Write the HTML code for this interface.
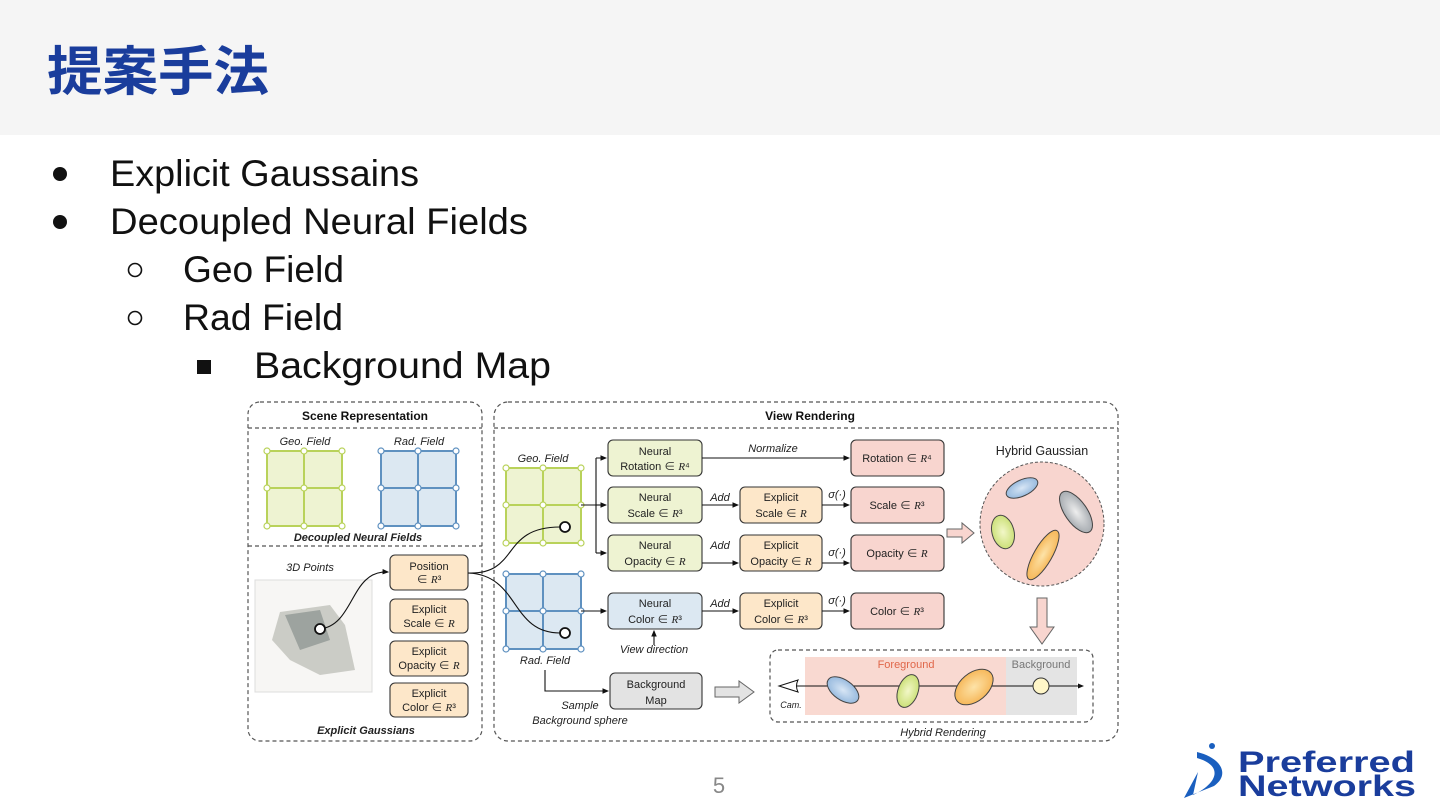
<!DOCTYPE html>
<html><head><meta charset="utf-8"><style>
html,body{margin:0;padding:0;background:#fff}
svg{display:block}
text{font-family:"Liberation Sans","Noto Sans CJK JP",sans-serif}
</style></head><body>
<svg width="1440" height="810" viewBox="0 0 1440 810" xmlns="http://www.w3.org/2000/svg">
<defs>
<marker id="ah" markerWidth="6" markerHeight="6" refX="5" refY="3" orient="auto"><path d="M0,0.5 L6,3 L0,5.5z" fill="#111"/></marker>
<radialGradient id="org" cx="0.5" cy="0.5" r="0.6"><stop offset="0" stop-color="#fde3a8"/><stop offset="1" stop-color="#f5b04c"/></radialGradient>
<radialGradient id="blu" cx="0.5" cy="0.5" r="0.6"><stop offset="0" stop-color="#d8e6f5"/><stop offset="1" stop-color="#8cb2da"/></radialGradient>
<radialGradient id="grn" cx="0.5" cy="0.5" r="0.6"><stop offset="0" stop-color="#f2f7c8"/><stop offset="1" stop-color="#c5dc6a"/></radialGradient>
<radialGradient id="gry" cx="0.5" cy="0.5" r="0.6"><stop offset="0" stop-color="#eee"/><stop offset="1" stop-color="#9aa0a6"/></radialGradient>
</defs>
<rect x="0" y="0" width="1440" height="135" fill="#f5f5f5"/>
<text x="47" y="90" font-size="53" font-weight="bold" fill="#1a3d9c" textLength="222" lengthAdjust="spacingAndGlyphs">提案手法</text>

<g font-size="37" fill="#111">
<circle cx="60" cy="174" r="7"/>
<text x="110" y="186" textLength="309" lengthAdjust="spacingAndGlyphs">Explicit Gaussains</text>
<circle cx="60" cy="222" r="7"/>
<text x="110" y="234" textLength="418" lengthAdjust="spacingAndGlyphs">Decoupled Neural Fields</text>
<circle cx="135" cy="270" r="6.5" fill="none" stroke="#111" stroke-width="1.6"/>
<text x="183" y="282" textLength="161" lengthAdjust="spacingAndGlyphs">Geo Field</text>
<circle cx="135" cy="318" r="6.5" fill="none" stroke="#111" stroke-width="1.6"/>
<text x="183" y="330" textLength="160" lengthAdjust="spacingAndGlyphs">Rad Field</text>
<rect x="197" y="360" width="14" height="14"/>
<text x="254" y="378" textLength="297" lengthAdjust="spacingAndGlyphs">Background Map</text>
</g>

<!-- Diagram frames -->
<g fill="none" stroke="#555" stroke-width="1.2" stroke-dasharray="4,3">
<rect x="248" y="402" width="234" height="339" rx="12"/>
<line x1="248" y1="428" x2="482" y2="428"/>
<line x1="248" y1="546" x2="482" y2="546"/>
<rect x="494" y="402" width="624" height="339" rx="14"/>
<line x1="494" y1="428" x2="1118" y2="428"/>
<rect x="770" y="650" width="323" height="72" rx="8"/>
</g>
<g font-size="12" font-weight="bold" fill="#111">
<text x="365" y="420" text-anchor="middle">Scene Representation</text>
<text x="810" y="420" text-anchor="middle">View Rendering</text>
</g>
<g font-size="11" font-style="italic" fill="#222">
<text x="305" y="445" text-anchor="middle">Geo.  Field</text>
<text x="419" y="445" text-anchor="middle">Rad. Field</text>
<text x="358" y="541" text-anchor="middle" font-weight="bold">Decoupled Neural Fields</text>
<text x="310" y="571" text-anchor="middle">3D Points</text>
<text x="366" y="734" text-anchor="middle" font-weight="bold">Explicit Gaussians</text>
<text x="543" y="462" text-anchor="middle">Geo.  Field</text>
<text x="545" y="664" text-anchor="middle">Rad. Field</text>
<text x="654" y="653" text-anchor="middle">View direction</text>
<text x="580" y="709" text-anchor="middle">Sample</text>
<text x="580" y="724" text-anchor="middle">Background sphere</text>
<text x="773" y="452" text-anchor="middle">Normalize</text>
<text x="720" y="501" text-anchor="middle">Add</text>
<text x="720" y="549" text-anchor="middle">Add</text>
<text x="720" y="607" text-anchor="middle">Add</text>
<text x="837" y="498" text-anchor="middle">σ(·)</text>
<text x="837" y="556" text-anchor="middle">σ(·)</text>
<text x="837" y="604" text-anchor="middle">σ(·)</text>
<text x="791" y="708" text-anchor="middle" font-size="9">Cam.</text>
<text x="943" y="736" text-anchor="middle">Hybrid Rendering</text>
</g>

<!-- Grids -->
<g stroke-width="2">
<g fill="#eef3d2" stroke="#b9d25a">
<rect x="267" y="451" width="75" height="75"/><line x1="304" y1="451" x2="304" y2="526"/><line x1="267" y1="488" x2="342" y2="488"/>
<rect x="506" y="468" width="75" height="75"/><line x1="543" y1="468" x2="543" y2="543"/><line x1="506" y1="505" x2="581" y2="505"/>
</g>
<g fill="#dce8f2" stroke="#5f91c0">
<rect x="381" y="451" width="75" height="75"/><line x1="418" y1="451" x2="418" y2="526"/><line x1="381" y1="488" x2="456" y2="488"/>
<rect x="506" y="574" width="75" height="75"/><line x1="543" y1="574" x2="543" y2="649"/><line x1="506" y1="611" x2="581" y2="611"/>
</g>
</g>
<g fill="#fff" stroke-width="1.2">
<g stroke="#b9d25a">
<circle cx="267" cy="451" r="3"/><circle cx="304" cy="451" r="3"/><circle cx="342" cy="451" r="3"/><circle cx="267" cy="488" r="3"/><circle cx="304" cy="488" r="3"/><circle cx="342" cy="488" r="3"/><circle cx="267" cy="526" r="3"/><circle cx="304" cy="526" r="3"/><circle cx="342" cy="526" r="3"/>
<circle cx="506" cy="468" r="3"/><circle cx="543" cy="468" r="3"/><circle cx="581" cy="468" r="3"/><circle cx="506" cy="505" r="3"/><circle cx="543" cy="505" r="3"/><circle cx="581" cy="505" r="3"/><circle cx="506" cy="543" r="3"/><circle cx="543" cy="543" r="3"/><circle cx="581" cy="543" r="3"/>
</g>
<g stroke="#5f91c0">
<circle cx="381" cy="451" r="3"/><circle cx="418" cy="451" r="3"/><circle cx="456" cy="451" r="3"/><circle cx="381" cy="488" r="3"/><circle cx="418" cy="488" r="3"/><circle cx="456" cy="488" r="3"/><circle cx="381" cy="526" r="3"/><circle cx="418" cy="526" r="3"/><circle cx="456" cy="526" r="3"/>
<circle cx="506" cy="574" r="3"/><circle cx="543" cy="574" r="3"/><circle cx="581" cy="574" r="3"/><circle cx="506" cy="611" r="3"/><circle cx="543" cy="611" r="3"/><circle cx="581" cy="611" r="3"/><circle cx="506" cy="649" r="3"/><circle cx="543" cy="649" r="3"/><circle cx="581" cy="649" r="3"/>
</g>
</g>

<!-- 3D points image -->
<rect x="255" y="580" width="117" height="112" fill="#f7f6f4" stroke="#ddd"/>
<path d="M280,612 L330,605 L345,625 L355,670 L320,675 L290,660 L272,640z" fill="#a8a9a0" opacity="0.55"/>
<path d="M285,615 L320,610 L330,640 L300,650z" fill="#6f7a78" opacity="0.5"/>

<!-- boxes -->
<g stroke="#333" stroke-width="1.1">
<g fill="#fde7c9">
<rect x="390" y="555" width="78" height="35" rx="5"/>
<rect x="390" y="599" width="78" height="34" rx="5"/>
<rect x="390" y="641" width="78" height="35" rx="5"/>
<rect x="390" y="683" width="78" height="34" rx="5"/>
<rect x="740" y="487" width="82" height="36" rx="5"/>
<rect x="740" y="535" width="82" height="36" rx="5"/>
<rect x="740" y="593" width="82" height="36" rx="5"/>
</g>
<g fill="#eef3d2">
<rect x="608" y="440" width="94" height="36" rx="5"/>
<rect x="608" y="487" width="94" height="36" rx="5"/>
<rect x="608" y="535" width="94" height="36" rx="5"/>
</g>
<rect x="608" y="593" width="94" height="36" rx="5" fill="#dce8f2"/>
<rect x="610" y="673" width="92" height="36" rx="5" fill="#e3e3e3"/>
<g fill="#f8d5cf">
<rect x="851" y="440" width="93" height="36" rx="5"/>
<rect x="851" y="487" width="93" height="36" rx="5"/>
<rect x="851" y="535" width="93" height="36" rx="5"/>
<rect x="851" y="593" width="93" height="36" rx="5"/>
</g>
</g>
<g font-size="11" fill="#222" text-anchor="middle">
<text x="429" y="570">Position</text><text x="429" y="583">∈ <tspan font-style="italic" font-family="Liberation Serif">R</tspan>³</text>
<text x="429" y="613">Explicit</text><text x="429" y="627">Scale ∈ <tspan font-style="italic" font-family="Liberation Serif">R</tspan></text>
<text x="429" y="655">Explicit</text><text x="429" y="669">Opacity ∈ <tspan font-style="italic" font-family="Liberation Serif">R</tspan></text>
<text x="429" y="697">Explicit</text><text x="429" y="711">Color ∈ <tspan font-style="italic" font-family="Liberation Serif">R</tspan>³</text>
<text x="655" y="455">Neural</text><text x="655" y="470">Rotation ∈ <tspan font-style="italic" font-family="Liberation Serif">R</tspan>⁴</text>
<text x="655" y="501">Neural</text><text x="655" y="517">Scale ∈ <tspan font-style="italic" font-family="Liberation Serif">R</tspan>³</text>
<text x="655" y="549">Neural</text><text x="655" y="565">Opacity ∈ <tspan font-style="italic" font-family="Liberation Serif">R</tspan></text>
<text x="655" y="607">Neural</text><text x="655" y="623">Color ∈ <tspan font-style="italic" font-family="Liberation Serif">R</tspan>³</text>
<text x="656" y="688">Background</text><text x="656" y="704">Map</text>
<text x="781" y="501">Explicit</text><text x="781" y="517">Scale ∈ <tspan font-style="italic" font-family="Liberation Serif">R</tspan></text>
<text x="781" y="549">Explicit</text><text x="781" y="565">Opacity ∈ <tspan font-style="italic" font-family="Liberation Serif">R</tspan></text>
<text x="781" y="607">Explicit</text><text x="781" y="623">Color ∈ <tspan font-style="italic" font-family="Liberation Serif">R</tspan>³</text>
<text x="897" y="462">Rotation ∈ <tspan font-style="italic" font-family="Liberation Serif">R</tspan>⁴</text>
<text x="897" y="509">Scale ∈ <tspan font-style="italic" font-family="Liberation Serif">R</tspan>³</text>
<text x="897" y="557">Opacity ∈ <tspan font-style="italic" font-family="Liberation Serif">R</tspan></text>
<text x="897" y="615">Color ∈ <tspan font-style="italic" font-family="Liberation Serif">R</tspan>³</text>
<text x="1042" y="455" font-size="12.5">Hybrid Gaussian</text>
</g>

<!-- connectors -->
<g fill="none" stroke="#111" stroke-width="1.1">
<path d="M320,629 C355,625 350,570 388,572" marker-end="url(#ah)"/>
<path d="M468,573 C520,575 500,527 560,527"/>
<path d="M468,573 C520,575 510,633 560,633"/>
<path d="M581,505 L596,505 M596,458 L596,553 M596,458 L606,458" marker-end="url(#ah)"/>
<path d="M596,505 L606,505" marker-end="url(#ah)"/>
<path d="M596,553 L606,553" marker-end="url(#ah)"/>
<path d="M581,611 L606,611" marker-end="url(#ah)"/>
<path d="M654,645 L654,631" marker-end="url(#ah)"/>
<path d="M545,670 L545,691 L608,691" marker-end="url(#ah)"/>
<path d="M702,458 L849,458" marker-end="url(#ah)"/>
<path d="M702,505 L738,505" marker-end="url(#ah)"/>
<path d="M702,563 L738,563" marker-end="url(#ah)"/>
<path d="M702,611 L738,611" marker-end="url(#ah)"/>
<path d="M822,505 L849,505" marker-end="url(#ah)"/>
<path d="M822,563 L849,563" marker-end="url(#ah)"/>
<path d="M822,611 L849,611" marker-end="url(#ah)"/>
</g>
<circle cx="320" cy="629" r="5" fill="#fff" stroke="#111" stroke-width="1.8"/>
<circle cx="565" cy="527" r="5" fill="#fff" stroke="#111" stroke-width="1.8"/>
<circle cx="565" cy="633" r="5" fill="#fff" stroke="#111" stroke-width="1.8"/>

<!-- hybrid gaussian -->
<circle cx="1042" cy="524" r="62" fill="#f8d5cf" stroke="#555" stroke-dasharray="3,2"/>
<g stroke="#444" stroke-width="1">
<ellipse cx="1022" cy="488" rx="17" ry="8" transform="rotate(-25 1022 488)" fill="url(#blu)"/>
<ellipse cx="1076" cy="512" rx="24" ry="11" transform="rotate(55 1076 512)" fill="url(#gry)"/>
<ellipse cx="1003" cy="532" rx="11" ry="17" transform="rotate(-15 1003 532)" fill="url(#grn)"/>
<ellipse cx="1043" cy="555" rx="28" ry="9" transform="rotate(-60 1043 555)" fill="url(#org)"/>
</g>
<path d="M947,529 L962,529 L962,523 L974,533 L962,543 L962,537 L947,537z" fill="#f8d5cf" stroke="#666"/>
<path d="M1037,598 L1047,598 L1047,627 L1054,627 L1042,644 L1030,627 L1037,627z" fill="#f8d5cf" stroke="#666"/>
<path d="M715,687 L739,687 L739,681 L754,692 L739,703 L739,697 L715,697z" fill="#e3e3e3" stroke="#666"/>

<!-- hybrid rendering -->
<rect x="805" y="657" width="201" height="58" fill="#f9d9d1"/>
<rect x="1006" y="657" width="71" height="58" fill="#e4e4e4"/>
<text x="906" y="668" font-size="11" fill="#e0674a" text-anchor="middle">Foreground</text>
<text x="1041" y="668" font-size="11" fill="#777" text-anchor="middle">Background</text>
<line x1="797" y1="686" x2="1083" y2="686" stroke="#111" stroke-width="1" marker-end="url(#ah)"/>
<path d="M798,680 L779,686 L798,692 Q795,686 798,680z" fill="#fff" stroke="#111"/>
<g stroke="#444" stroke-width="1">
<ellipse cx="843" cy="690" rx="18" ry="10" transform="rotate(35 843 690)" fill="url(#blu)"/>
<ellipse cx="908" cy="691" rx="10" ry="17" transform="rotate(20 908 691)" fill="url(#grn)"/>
<ellipse cx="974" cy="687" rx="22" ry="14" transform="rotate(-40 974 687)" fill="url(#org)"/>
</g>
<circle cx="1041" cy="686" r="8" fill="#fff6c8" stroke="#333"/>

<!-- page number -->
<text x="719" y="793" font-size="22" fill="#888" text-anchor="middle">5</text>

<!-- logo -->
<path d="M1197,752 C1222,758 1230,775 1214,786 L1184,798 L1198,772 L1193,795 C1220,782 1222,765 1197,758z" fill="#1a5fbf"/>
<circle cx="1212" cy="746" r="3" fill="#1a5fbf"/>
<text x="1238" y="772" font-size="30" font-weight="bold" fill="#1a3d9c" textLength="177" lengthAdjust="spacingAndGlyphs">Preferred</text>
<text x="1238" y="796" font-size="30" font-weight="bold" fill="#1a3d9c" textLength="178" lengthAdjust="spacingAndGlyphs">Networks</text>
</svg>
</body></html>
